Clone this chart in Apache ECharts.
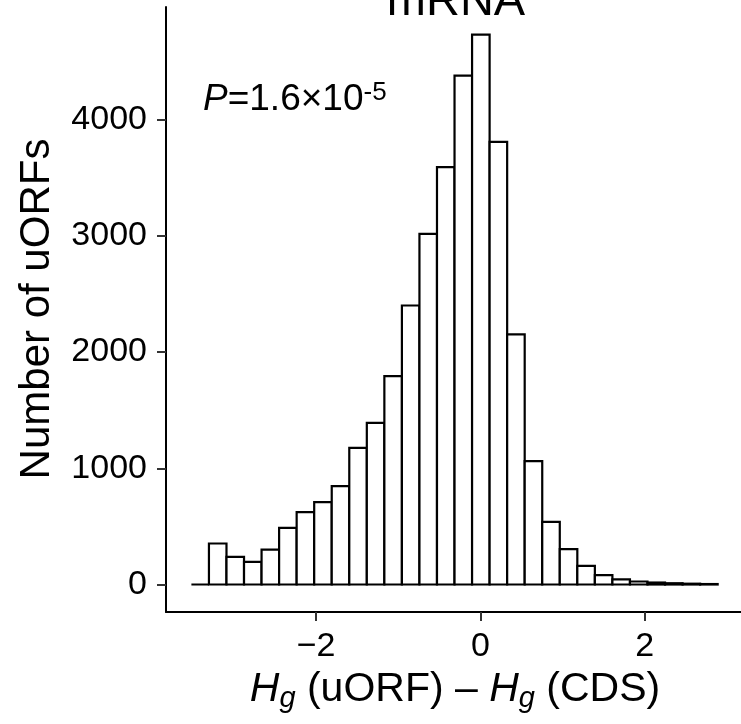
<!DOCTYPE html>
<html><head><meta charset="utf-8">
<script src="https://cdn.jsdelivr.net/npm/echarts@6/dist/echarts.min.js"></script>
<style>html,body{margin:0;padding:0;background:#fff}#c{width:741px;height:724px}</style>
</head><body><div id="c"></div>
<script>
// Histogram data (30 bins)
const binStart = -3.516;
const binWidth = 0.2134;
const counts = [0, 353, 238, 195, 301, 487, 623, 709, 846, 1176, 1391, 1793, 2401, 3018, 3592, 4380, 4733, 3810, 2152, 1062, 539, 304, 160, 80, 44, 26, 17, 11, 7, 4];
const xTicks = [-2, 0, 2];
const yTicks = [0, 1000, 2000, 3000, 4000];
const titleText = 'mRNA';
const yTitle = 'Number of uORFs';
const pLabel = 'P';
const pValue = '=1.6×10';
const pExp = '-5';

const FONT = "'Liberation Sans', Arial, Helvetica, sans-serif";
const bins = counts.map((c, i) => [binStart + i * binWidth, binStart + (i + 1) * binWidth, c]);

const chart = echarts.init(document.getElementById('c'), null, {renderer: 'canvas'});
chart.setOption({
  animation: false,
  backgroundColor: '#fff',
  grid: {left: 166, right: 0, top: 7, bottom: 112},
  xAxis: {
    type: 'value', min: -3.825, max: 3.17,
    axisLine: {show: true, onZero: false, lineStyle: {color: '#000', width: 2}},
    axisTick: {show: true, customValues: xTicks, length: 9, lineStyle: {color: '#333', width: 2}},
    axisLabel: {show: true, customValues: xTicks, fontSize: 34, color: '#000', fontFamily: FONT, margin: 18,
      formatter: v => (v < 0 ? '\u2212' + Math.abs(v) : String(v))},
    splitLine: {show: false}
  },
  yAxis: {
    type: 'value', min: -236.6, max: 4970,
    axisLine: {show: true, onZero: false, lineStyle: {color: '#000', width: 2}},
    axisTick: {show: true, customValues: yTicks, length: 9, lineStyle: {color: '#333', width: 2}},
    axisLabel: {show: true, customValues: yTicks, fontSize: 34, color: '#000', fontFamily: FONT, margin: 19,
      formatter: v => String(v)},
    splitLine: {show: false}
  },
  series: [{
    type: 'custom',
    data: bins,
    renderItem: function (params, api) {
      const p0 = api.coord([api.value(0), api.value(2)]);
      const p1 = api.coord([api.value(1), 0]);
      return {
        type: 'rect',
        shape: {x: p0[0], y: p0[1], width: p1[0] - p0[0], height: p1[1] - p0[1]},
        style: {fill: '#fff', stroke: '#000', lineWidth: 2.2}
      };
    }
  }],
  graphic: [
    {type: 'text', x: 456, y: 2, style: {text: titleText, fontSize: 47, fontFamily: FONT, fill: '#000',
      textAlign: 'center', textVerticalAlign: 'middle', align: 'center', verticalAlign: 'middle'}},
    {type: 'text', x: 37, y: 309, rotation: Math.PI / 2, style: {text: yTitle, fontSize: 42, fontFamily: FONT, fill: '#000',
      textAlign: 'center', textVerticalAlign: 'middle', align: 'center', verticalAlign: 'middle'}},
    {type: 'text', x: 203, y: 100, style: {
      text: '{i|' + pLabel + '}{n|' + pValue + '}{s|' + pExp + '}',
      textAlign: 'left', textVerticalAlign: 'middle', align: 'left', verticalAlign: 'middle',
      rich: {
        i: {fontSize: 37, fontStyle: 'italic', fontFamily: FONT, fill: '#000', lineHeight: 40},
        n: {fontSize: 37, fontFamily: FONT, fill: '#000', lineHeight: 40},
        s: {fontSize: 26, fontFamily: FONT, fill: '#000', lineHeight: 26, verticalAlign: 'top'}
      }}},
    {type: 'text', x: 455, y: 690, style: {
      text: '{i|H}{s|g}{n| (uORF) \u2013 }{i|H}{s|g}{n| (CDS)}',
      textAlign: 'center', textVerticalAlign: 'middle', align: 'center', verticalAlign: 'middle',
      rich: {
        i: {fontSize: 41, fontStyle: 'italic', fontFamily: FONT, fill: '#000', lineHeight: 46},
        n: {fontSize: 41, fontFamily: FONT, fill: '#000', lineHeight: 46},
        s: {fontSize: 29, fontStyle: 'italic', fontFamily: FONT, fill: '#000', lineHeight: 29, verticalAlign: 'bottom'}
      }}}
  ]
});
</script></body></html>
